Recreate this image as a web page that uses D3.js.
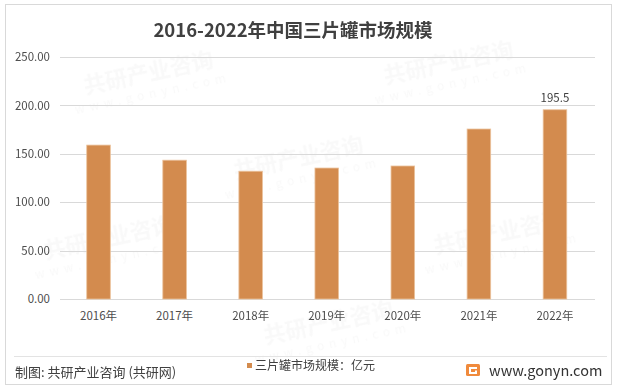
<!DOCTYPE html>
<html>
<head>
<meta charset="utf-8">
<script src="https://cdn.jsdelivr.net/npm/d3@7"></script>
<style>
  html, body { margin: 0; padding: 0; background: #fff; }
  svg { display: block; }
  text { font-family: "Noto Sans CJK SC", "Noto Sans", sans-serif; }
</style>
</head>
<body>
<svg id="chart" width="621" height="391"></svg>
<script>
const title = "2016-2022年中国三片罐市场规模";
const categories = ["2016年", "2017年", "2018年", "2019年", "2020年", "2021年", "2022年"];
const values = [159.0, 143.4, 132.0, 135.3, 137.4, 175.6, 195.5];
const labeledIndex = [6];
const yTicks = [0, 50, 100, 150, 200, 250];
const seriesName = "三片罐市场规模：亿元";
const sourceText = "制图: 共研产业咨询 (共研网)";
const siteText = "www.gonyn.com";

const svg = d3.select("#chart");

// outer frame
svg.append("rect").attr("x", 5.5).attr("y", 4.5).attr("width", 606).attr("height", 380)
  .attr("fill", "#fff").attr("stroke", "#d9d9d9").attr("stroke-width", 1);

// faint watermarks (kept fully inside the frame)
const wm = svg.append("g").attr("opacity", 0.045).attr("pointer-events", "none");
const wmPos = [[150, 80], [450, 70], [300, 165], [110, 245], [500, 240], [330, 330]];
wmPos.forEach(([x, y]) => {
  const g = wm.append("g").attr("transform", `translate(${x},${y}) rotate(-12)`);
  g.append("text").attr("text-anchor", "middle").attr("font-size", 22).attr("font-weight", "bold")
    .attr("fill", "#777").text("共研产业咨询");
  g.append("text").attr("text-anchor", "middle").attr("y", 18).attr("font-size", 12)
    .attr("letter-spacing", 5).attr("fill", "#777").text("www.gonyn.com");
});

const x = d3.scaleBand().domain(categories).range([60.5, 593]).paddingInner(0.69).paddingOuter(0.345);
const y = d3.scaleLinear().domain([0, 250]).range([299, 57]);

// gridlines
svg.append("g").selectAll("line").data(yTicks).join("line")
  .attr("x1", 60).attr("x2", 595)
  .attr("y1", d => Math.round(y(d)) + 0.5).attr("y2", d => Math.round(y(d)) + 0.5)
  .attr("stroke", "#d9d9d9").attr("stroke-width", 1);

// y axis labels
const yAxis = d3.axisLeft(y).tickValues(yTicks).tickFormat(d3.format(".2f")).tickSize(0).tickPadding(0);
const yg = svg.append("g").attr("transform", "translate(50,0)").call(yAxis);
yg.select(".domain").remove();
yg.selectAll("text").attr("font-size", 11.5).attr("fill", "#4d4d4d")
  .attr("font-family", "'Noto Sans CJK SC', sans-serif");

// bars
svg.append("g").selectAll("rect").data(values).join("rect")
  .attr("x", (d, i) => x(categories[i]))
  .attr("y", d => y(d))
  .attr("width", x.bandwidth())
  .attr("height", d => y(0) - y(d))
  .attr("fill", "#D38B4E")
  .attr("stroke", "#EBC29C").attr("stroke-width", 0.8);

// x axis labels
const xAxis = d3.axisBottom(x).tickSize(0).tickPadding(0);
const xg = svg.append("g").attr("transform", "translate(0,312)").call(xAxis);
xg.select(".domain").remove();
xg.selectAll("text").attr("font-size", 11.5).attr("fill", "#4d4d4d")
  .attr("font-family", "'Noto Sans CJK SC', sans-serif");

// data label
svg.append("g").selectAll("text").data(labeledIndex).join("text")
  .attr("x", i => x(categories[i]) + x.bandwidth() / 2)
  .attr("y", i => y(values[i]) - 8)
  .attr("text-anchor", "middle").attr("font-size", 11.5).attr("fill", "#404040")
  .text(i => values[i]);

// title
svg.append("text").attr("x", 293).attr("y", 37).attr("text-anchor", "middle")
  .attr("font-size", 18.5).attr("font-weight", "bold").attr("fill", "#404040").text(title);

// footer separator
svg.append("line").attr("x1", 14).attr("x2", 607).attr("y1", 356.5).attr("y2", 356.5)
  .attr("stroke", "#e3e3e3").attr("stroke-width", 1);

// source
svg.append("text").attr("x", 15).attr("y", 376.5).attr("font-size", 13).attr("fill", "#404040").text(sourceText);

// legend
svg.append("rect").attr("x", 247).attr("y", 363).attr("width", 5).attr("height", 5).attr("fill", "#D38B4E");
svg.append("text").attr("x", 255).attr("y", 370).attr("font-size", 12).attr("fill", "#404040").text(seriesName);

// logo
const logo = svg.append("g").attr("transform", "translate(466,364)");
logo.append("rect").attr("width", 14).attr("height", 12).attr("rx", 1.5).attr("fill", "#F08A3C");
logo.append("path").attr("d", "M3,3 H11 V5 H5 V8 H9 V6.5 H11 V10 H3 Z").attr("fill", "#fff");

svg.append("text").attr("x", 489).attr("y", 376).attr("font-size", 14.5)
  .attr("font-family", "'Open Sans', 'Noto Sans', sans-serif").attr("fill", "#333").text(siteText);
</script>
</body>
</html>
